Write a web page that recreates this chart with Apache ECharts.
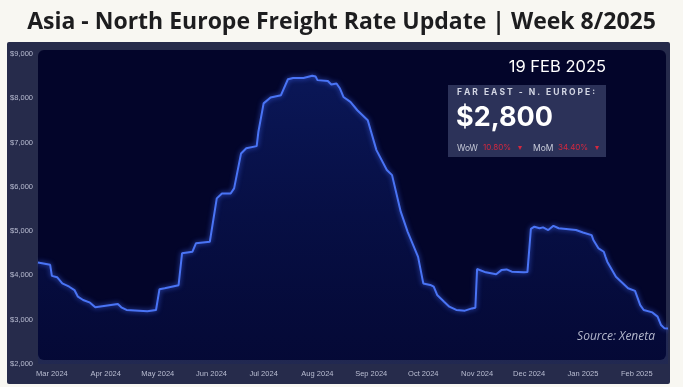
<!DOCTYPE html>
<html>
<head>
<meta charset="utf-8">
<script src="https://cdn.jsdelivr.net/npm/echarts@6/dist/echarts.min.js"></script>
<style>
html,body{margin:0;padding:0;background:#f8f7f2;}
#c{width:683px;height:387px;}
</style>
</head>
<body>
<div id="c"></div>
<script>
const dates = ['2024-02-22','2024-02-29','2024-03-01','2024-03-04','2024-03-07','2024-03-11','2024-03-14','2024-03-16','2024-03-19','2024-03-23','2024-03-26','2024-03-31','2024-04-08','2024-04-10','2024-04-13','2024-04-25','2024-04-30','2024-05-02','2024-05-05','2024-05-13','2024-05-15','2024-05-21','2024-05-23','2024-05-31','2024-06-04','2024-06-07','2024-06-12','2024-06-14','2024-06-18','2024-06-21','2024-06-27','2024-06-28','2024-07-01','2024-07-05','2024-07-11','2024-07-15','2024-07-18','2024-07-24','2024-07-29','2024-07-31','2024-08-01','2024-08-07','2024-08-09','2024-08-12','2024-08-14','2024-08-16','2024-08-20','2024-08-24','2024-08-30','2024-09-04','2024-09-10','2024-09-13','2024-09-18','2024-09-22','2024-09-28','2024-10-01','2024-10-05','2024-10-07','2024-10-09','2024-10-13','2024-10-16','2024-10-20','2024-10-25','2024-10-29','2024-10-31','2024-11-01','2024-11-06','2024-11-12','2024-11-15','2024-11-18','2024-11-21','2024-11-28','2024-11-30','2024-12-02','2024-12-04','2024-12-07','2024-12-09','2024-12-12','2024-12-15','2024-12-18','2024-12-28','2025-01-01','2025-01-06','2025-01-07','2025-01-10','2025-01-13','2025-01-14','2025-01-15','2025-01-20','2025-01-27','2025-01-31','2025-02-03','2025-02-05','2025-02-10','2025-02-13','2025-02-15','2025-02-17','2025-02-19'];
const rates = [4290,4240,3990,3960,3820,3745,3670,3520,3445,3385,3280,3310,3355,3280,3220,3190,3220,3690,3710,3780,4500,4535,4725,4760,5740,5850,5850,5965,6755,6870,6920,7245,7885,8020,8070,8430,8460,8460,8510,8490,8410,8390,8310,8335,8220,8030,7920,7730,7505,6830,6380,6265,5440,4985,4420,3820,3785,3745,3560,3405,3295,3220,3205,3255,3270,4145,4070,4025,4120,4135,4085,4070,4075,5050,5100,5065,5085,5025,5120,5065,5025,4970,4910,4800,4610,4535,4420,4310,3970,3710,3650,3330,3220,3165,3070,2880,2805,2800];
const yTicks = [2000,3000,4000,5000,6000,7000,8000,9000];
const monthNames = ['Jan','Feb','Mar','Apr','May','Jun','Jul','Aug','Sep','Oct','Nov','Dec'];
const titleText = 'Asia - North Europe Freight Rate Update | Week 8/2025';
const dateText = '19 FEB 2025';
const routeText = 'FAR EAST - N. EUROPE:';
const priceText = '$2,800';
const wowText = '10.80%';
const momText = '34.40%';
const sourceText = 'Source: Xeneta';

const spaced = s => s.split('').join('\u2009\u200A');

const chart = echarts.init(document.getElementById('c'));
const seriesData = dates.map((d, i) => [d, rates[i]]);

chart.setOption({
  backgroundColor: '#f8f7f2',
  animation: false,
  title: {
    text: titleText,
    left: 'center',
    top: 6,
    textStyle: {fontFamily: 'Open Sans', fontWeight: 'bold', fontSize: 23, color: '#1d1d1f'}
  },
  grid: {left: 38, right: 15, top: 54, bottom: 23, containLabel: false},
  xAxis: {
    type: 'time',
    min: '2024-02-22',
    max: '2025-02-19',
    splitNumber: 12,
    maxInterval: 31 * 86400000,
    minInterval: 28 * 86400000,
    axisLine: {show: false},
    axisTick: {show: false},
    splitLine: {show: false},
    axisLabel: {
      color: '#b9bdd2',
      fontSize: 7.5,
      fontFamily: 'Liberation Sans',
      margin: 6,
      showMinLabel: false,
      showMaxLabel: false,
      hideOverlap: false,
      formatter: function (v) {
        const d = new Date(v);
        return monthNames[d.getMonth()] + ' ' + d.getFullYear();
      }
    }
  },
  yAxis: {
    type: 'value',
    min: yTicks[0],
    max: yTicks[yTicks.length - 1],
    interval: 1000,
    axisLine: {show: false},
    axisTick: {show: false},
    splitLine: {show: false},
    axisLabel: {
      color: '#b9bdd2',
      fontSize: 7.5,
      fontFamily: 'Liberation Sans',
      margin: 5,
      formatter: v => '$' + v.toLocaleString('en-US')
    }
  },
  graphic: [
    {type: 'rect', z: -20, shape: {x: 7, y: 42, width: 663, height: 342, r: 2}, style: {fill: '#262b4b'}},
    {type: 'rect', z: -19, shape: {x: 38, y: 50, width: 628, height: 310, r: 6}, style: {fill: '#03052a'}},
    {type: 'text', z: 100, right: 683 - 606, top: 59, style: {text: dateText, fill: '#ffffff', fontSize: 16.5, fontFamily: 'Inter'}},
    {type: 'rect', z: 100, shape: {x: 448, y: 85, width: 158, height: 72}, style: {fill: '#2c3259'}},
    {type: 'text', z: 101, left: 457, top: 88, style: {text: spaced(routeText), fill: '#d3d6e4', fontSize: 8.5, fontWeight: 'bold', fontFamily: 'Inter'}},
    {type: 'text', z: 101, left: 456, top: 104, style: {text: priceText, fill: '#ffffff', fontSize: 27, fontWeight: 'bold', fontFamily: 'Inter'}},
    {type: 'text', z: 101, left: 457, top: 144, style: {text: 'WoW', fill: '#c9ccda', fontSize: 8.5, fontFamily: 'Inter'}},
    {type: 'text', z: 101, left: 483, top: 144, style: {text: wowText + '   \u25BE', fill: '#d4283f', fontSize: 8, fontFamily: 'Inter'}},
    {type: 'text', z: 101, left: 533, top: 144, style: {text: 'MoM', fill: '#c9ccda', fontSize: 8.5, fontFamily: 'Inter'}},
    {type: 'text', z: 101, left: 558, top: 144, style: {text: momText + '   \u25BE', fill: '#d4283f', fontSize: 8, fontFamily: 'Inter'}},
    {type: 'text', z: 101, right: 683 - 655, top: 331, style: {text: sourceText, fill: '#b4b8cc', fontSize: 12, fontStyle: 'italic', fontFamily: 'Open Sans'}}
  ],
  series: [{
    type: 'line',
    data: seriesData,
    showSymbol: false,
    smooth: false,
    z: 5,
    lineStyle: {color: '#4a74f5', width: 2, shadowColor: 'rgba(70,110,255,0.8)', shadowBlur: 5},
    areaStyle: {
      color: new echarts.graphic.LinearGradient(0, 0, 0, 1, [
        {offset: 0, color: 'rgba(22,52,160,0.55)'},
        {offset: 1, color: 'rgba(12,28,110,0.25)'}
      ])
    }
  }]
});
</script>
</body>
</html>
